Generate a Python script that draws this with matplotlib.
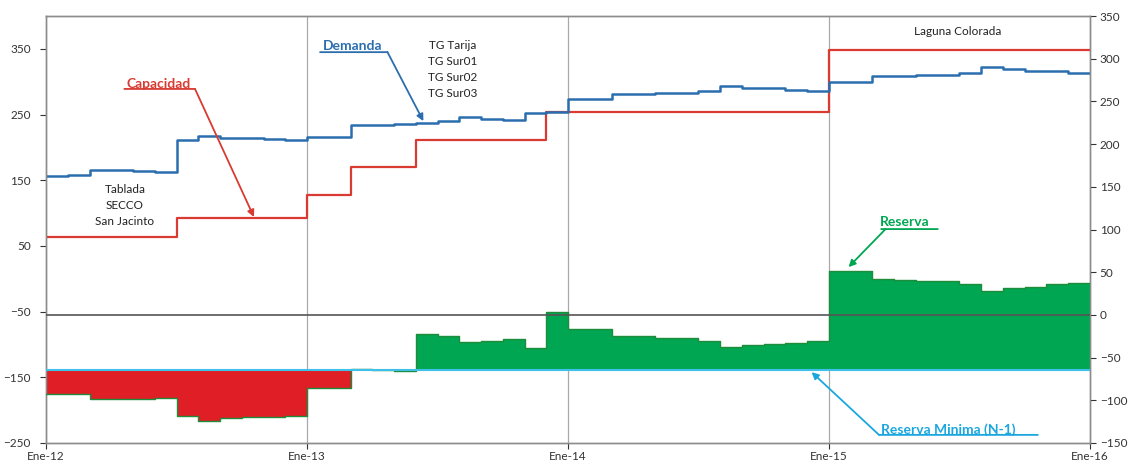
import matplotlib
matplotlib.use('Agg')
import matplotlib.pyplot as plt
import numpy as np

plt.rcParams['font.family'] = ['Lato', 'DejaVu Sans']

# monthly values, Ene-12 .. Dic-15
capacidad = [63, 63, 63, 63, 63, 63, 92, 92, 92, 92, 92, 92,
             127, 127, 170, 170, 170, 212, 212, 212, 212, 212, 212, 254,
             254, 254, 254, 254, 254, 254, 254, 254, 254, 254, 254, 254,
             348, 348, 348, 348, 348, 348, 348, 348, 348, 348, 348, 348]
demanda = [157, 158, 165, 165, 164, 163, 211, 217, 215, 214, 213, 212,
           216, 216, 234, 234, 235, 237, 240, 246, 243, 242, 252, 254,
           273, 273, 281, 281, 283, 283, 286, 294, 291, 290, 288, 286,
           299, 299, 308, 308, 310, 310, 313, 322, 319, 317, 316, 314]
reserva = [-93, -93, -99, -99, -99, -97, -118, -124, -121, -120, -119, -118,
           -86, -86, -63, -65, -66, -22, -25, -32, -30, -28, -39, 3,
           -16, -16, -25, -25, -27, -27, -30, -38, -35, -34, -33, -31,
           51, 51, 42, 41, 40, 40, 36, 28, 32, 33, 36, 37]
reserva_minima = -64

xlabels = ['Ene-12', 'Ene-13', 'Ene-14', 'Ene-15', 'Ene-16']

n = len(demanda)
x = np.arange(n + 1)

def ext(v):
    return np.append(v, v[-1])

fig = plt.figure(figsize=(11.28, 4.67), dpi=100)
ax = fig.add_axes([0.0408, 0.0514, 0.9255, 0.9143])
ax2 = ax.twinx()

red = '#D93A32'
blue = '#2A6EAE'
green = '#00A651'
cyan = '#3FC0E8'
mcyan = '#1AA7E0'

# left axis: capacity and demand
ax.step(x, ext(capacidad), where='post', color=red, lw=1.6, zorder=3)
ax.step(x, ext(demanda), where='post', color=blue, lw=1.8, zorder=3)

ax.set_xlim(0, n)
ax.set_ylim(-250, 400)
ax.set_yticks(np.arange(-250, 351, 100))
ax.set_xticks(np.arange(0, n + 1, 12))
ax.set_xticklabels(xlabels)
for xv in [12, 24, 36]:
    ax.axvline(xv, color='#A9A9A9', lw=0.9, zorder=1)

# right axis: reserve above / below the minimum
res = ext(np.array(reserva, dtype=float))
ax2.fill_between(x, reserva_minima, np.maximum(res, reserva_minima),
                 step='post', color=green, lw=0, zorder=2)
ax2.fill_between(x, reserva_minima, np.minimum(res, reserva_minima),
                 step='post', color='#E01E25', lw=0, zorder=2)
ax2.step(x, res, where='post', color='#1E8C3A', lw=1.0, zorder=3)
ax2.axhline(reserva_minima, color=cyan, lw=1.5, zorder=4)
ax2.axhline(0, color='#555555', lw=1.2, zorder=4)
ax2.set_ylim(-150, 350)
ax2.set_yticks(np.arange(-150, 351, 50))

for a in (ax, ax2):
    for s in a.spines.values():
        s.set_color('#8C8C8C')
        s.set_linewidth(1.0)
    a.tick_params(labelsize=8.5, colors='#333333', length=4, width=0.8)
ax.tick_params(axis='x', length=4, pad=2)
ax.tick_params(axis='y', pad=7)
ax2.tick_params(axis='y', pad=3)

# annotations
def arrow(a, p0, p1, col, head=True):
    a.annotate('', xy=p1, xytext=p0,
               arrowprops=dict(arrowstyle='-|>' if head else '-', color=col,
                               lw=1.3, mutation_scale=10,
                               shrinkA=0, shrinkB=0))

ax.text(5.2, 297, 'Capacidad', color=red, fontsize=10, fontweight='bold',
        ha='center', va='center')
arrow(ax, (3.6, 289), (6.85, 289), red, head=False)
arrow(ax, (6.85, 289), (9.56, 94), red)

ax.text(14.1, 355, 'Demanda', color=blue, fontsize=10, fontweight='bold',
        ha='center', va='center')
arrow(ax, (12.6, 345), (15.7, 345), blue, head=False)
arrow(ax, (15.7, 345), (17.35, 240), blue)

ax.text(18.7, 318, 'TG Tarija\nTG Sur01\nTG Sur02\nTG Sur03', fontsize=8.5,
        ha='center', va='center', linespacing=1.55, color='#222222')
ax.text(3.63, 112, 'Tablada\nSECCO\nSan Jacinto', fontsize=8.5,
        ha='center', va='center', linespacing=1.55, color='#222222')
ax.text(41.9, 376, 'Laguna Colorada', fontsize=8.5, ha='center',
        va='center', color='#222222')

ax2.text(39.5, 109, 'Reserva', color=green, fontsize=10, fontweight='bold',
         ha='center', va='center')
arrow(ax2, (38.4, 100.5), (41.0, 100.5), green, head=False)
arrow(ax2, (38.6, 100.5), (36.9, 56), green)

ax2.text(41.5, -134, 'Reserva Minima (N-1)', color=mcyan, fontsize=10,
         fontweight='bold', ha='center', va='center')
arrow(ax2, (38.3, -140.5), (45.6, -140.5), mcyan, head=False)
arrow(ax2, (38.3, -140.5), (35.2, -67), mcyan)

fig.savefig('out.png', dpi=100)
